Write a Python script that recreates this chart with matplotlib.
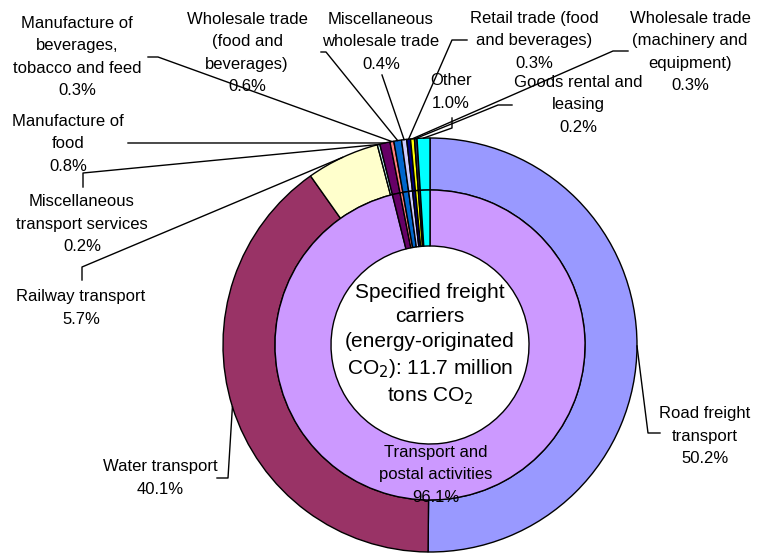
import matplotlib
matplotlib.use("Agg")
import matplotlib.pyplot as plt
import numpy as np

plt.rcParams['font.family'] = ['Liberation Sans', 'DejaVu Sans']

# outer ring (detailed industries), clockwise from 12 o'clock
outer_labels = ["Road freight\ntransport", "Water transport", "Railway transport",
                "Miscellaneous\ntransport services", "Manufacture of\nfood",
                "Manufacture of\nbeverages,\ntobacco and feed",
                "Wholesale trade\n(food and\nbeverages)", "Miscellaneous\nwholesale trade",
                "Retail trade (food\nand beverages)", "Wholesale trade\n(machinery and\nequipment)",
                "Goods rental and\nleasing", "Other"]
outer_values = [50.2, 40.1, 5.7, 0.2, 0.8, 0.3, 0.6, 0.4, 0.3, 0.3, 0.2, 1.0]
outer_colors = ["#9999FF", "#993366", "#FFFFCC", "#CCFFFF", "#660066", "#FF8080",
                "#0066CC", "#CCCCFF", "#000080", "#FFFF00", "#333366", "#00FFFF"]

# inner ring: transport and postal activities + same small industries
inner_labels = ["Transport and\npostal activities"] + outer_labels[4:]
inner_values = [96.1] + outer_values[4:]
inner_colors = ["#CC99FF"] + outer_colors[4:]

center_text = "Specified freight\ncarriers\n(energy-originated\nCO$_2$): 11.7 million\ntons CO$_2$"

W, H = 758, 557
fig = plt.figure(figsize=(W / 100, H / 100), dpi=100)
ax = fig.add_axes([0, 0, 1, 1])

cx, cy = 430, H - 345
R_out, R_mid, R_in = 207, 155, 99

edge = dict(edgecolor="black", linewidth=1.0)
w_out, _ = ax.pie(outer_values, colors=outer_colors, startangle=90, counterclock=False,
                  radius=R_out, center=(cx, cy),
                  wedgeprops=dict(width=R_out - R_mid, **edge))
w_in, _ = ax.pie(inner_values, colors=inner_colors, startangle=90, counterclock=False,
                 radius=R_mid, center=(cx, cy),
                 wedgeprops=dict(width=R_mid - R_in, **edge))
ax.set_xlim(0, W)
ax.set_ylim(0, H)
ax.set_aspect("equal")
ax.axis("off")


def mid_point(w, r):
    a = np.deg2rad((w.theta1 + w.theta2) / 2)
    return cx + r * np.cos(a), cy + r * np.sin(a)


fs = 12
ls = 1.6
# label centre (x, y from top), leader path points (x, y from top) ending at slice
layout = {
    0: ((705, 436), [(660, 433), (648, 433)]),
    1: ((160, 478), [(217, 478), (228, 478)]),
    2: ((81, 308), [(82, 280), (82, 267)]),
    3: ((82, 224), [(83, 187), (83, 173)]),
    4: ((68, 144), [(128, 143)]),
    5: ((77, 57), [(148, 57), (158, 57)]),
    6: ((247, 53), [(321, 52), (326, 52)]),
    7: ((381, 42), [(382, 75)]),
    8: ((534, 41), [(467, 40), (452, 40)]),
    9: ((690, 52), [(628, 51), (613, 51)]),
    10: ((578, 105), [(512, 105), (498, 105)]),
    11: ((451, 92), [(452, 118), (452, 128)]),
}

for i, (lab, val) in enumerate(zip(outer_labels, outer_values)):
    (tx, ty), path = layout[i]
    ax.text(tx, H - ty, f"{lab}\n{val:.1f}%", ha="center", va="center",
            fontsize=fs, linespacing=ls, color="black")
    px, py = mid_point(w_out[i], R_out)
    xs = [p[0] for p in path] + [px]
    ys = [H - p[1] for p in path] + [py]
    ax.plot(xs, ys, color="black", linewidth=1.0)

# inner label for the large inner slice
ax.text(436, H - 475, f"{inner_labels[0]}\n{inner_values[0]:.1f}%", ha="center",
        va="center", fontsize=fs, linespacing=ls, color="black", zorder=5)

ax.text(cx, cy, center_text, ha="center", va="center", fontsize=15,
        linespacing=1.35, color="black")

fig.savefig("out.png", dpi=100)
